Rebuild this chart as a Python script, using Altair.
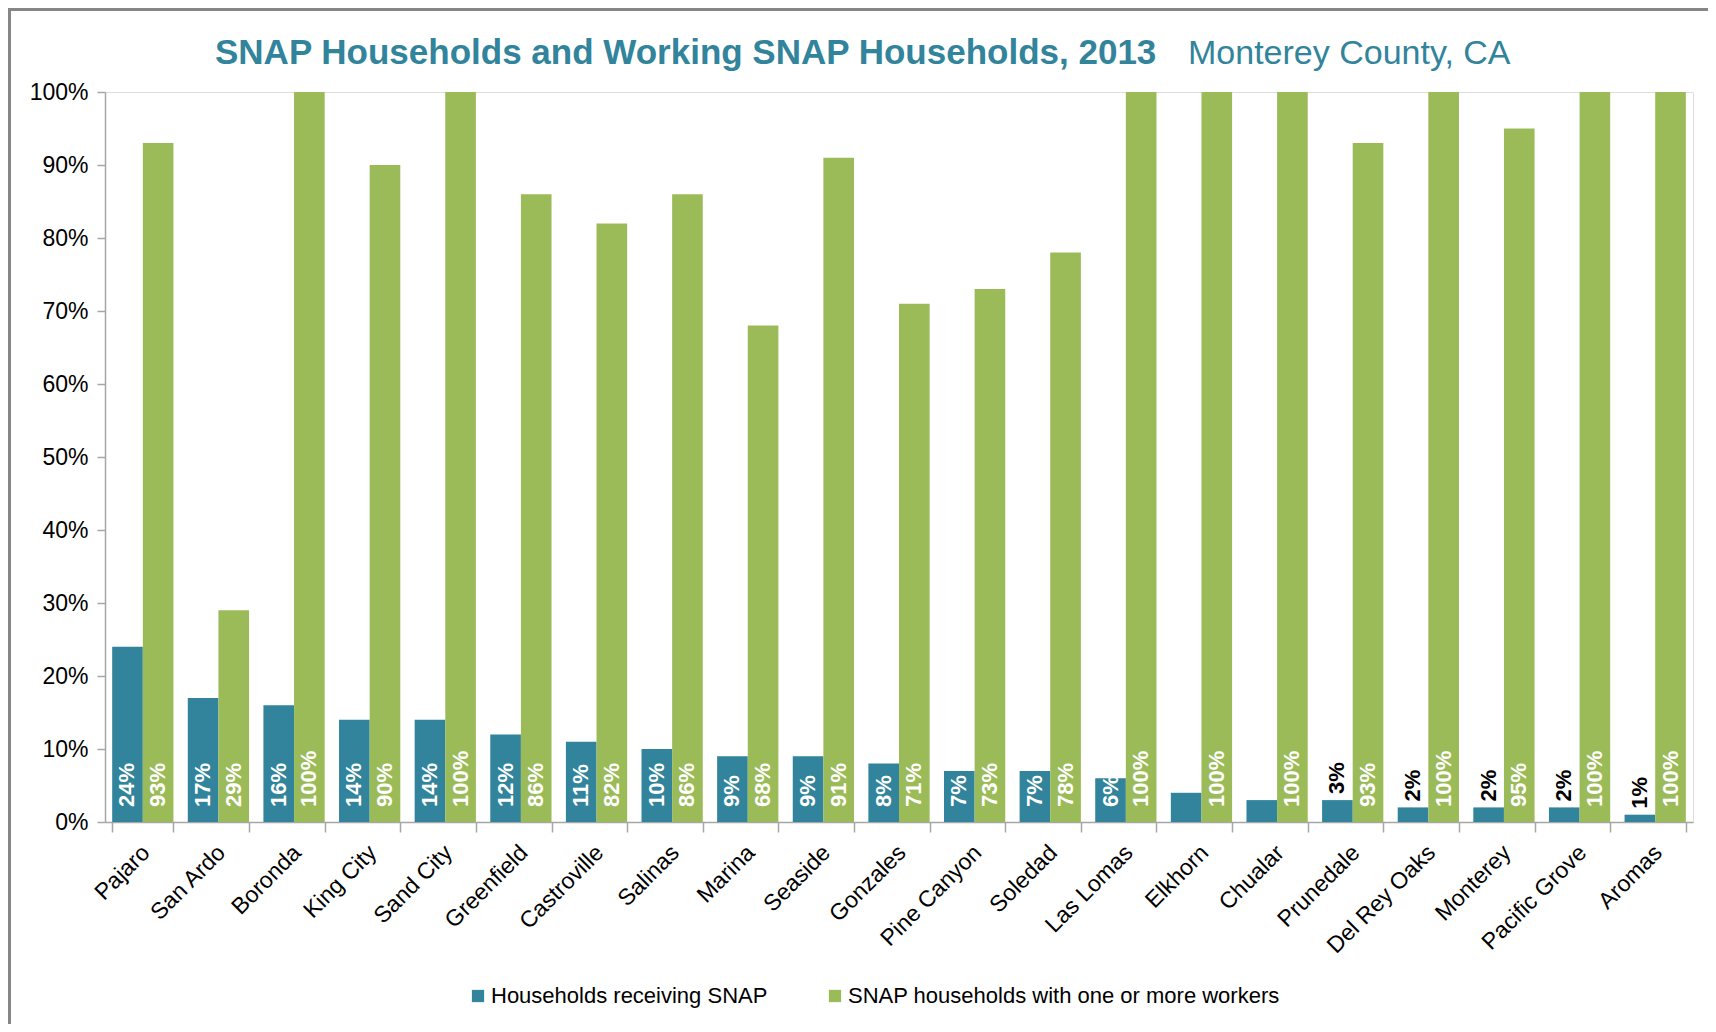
import altair as alt
import pandas as pd

places = ["Pajaro", "San Ardo", "Boronda", "King City", "Sand City", "Greenfield",
          "Castroville", "Salinas", "Marina", "Seaside", "Gonzales", "Pine Canyon",
          "Soledad", "Las Lomas", "Elkhorn", "Chualar", "Prunedale", "Del Rey Oaks",
          "Monterey", "Pacific Grove", "Aromas"]
snap = [24, 17, 16, 14, 14, 12, 11, 10, 9, 9, 8, 7, 7, 6, 4, 3, 3, 2, 2, 2, 1]
working = [93, 29, 100, 90, 100, 86, 82, 86, 68, 91, 71, 73, 78, 100, 100, 100,
           93, 100, 95, 100, 100]
snap_labels = ["24%", "17%", "16%", "14%", "14%", "12%", "11%", "10%", "9%", "9%",
               "8%", "7%", "7%", "6%", "", "", "3%", "2%", "2%", "2%", "1%"]
snap_inside = [True] * 14 + [False] * 7
working_labels = [f"{v}%" for v in working]

series = ["Households receiving SNAP", "SNAP households with one or more workers"]
colors = ["#31849B", "#9BBB59"]

rows = []
for i, p in enumerate(places):
    rows.append({"place": p, "series": series[0], "value": snap[i],
                 "label": snap_labels[i], "inside": snap_inside[i]})
    rows.append({"place": p, "series": series[1], "value": working[i],
                 "label": working_labels[i], "inside": True})
df = pd.DataFrame(rows)

FONT = "Liberation Sans, Arial, sans-serif"
W, H = 1588, 730

x_enc = alt.X("place:N", sort=places, title=None,
              scale=alt.Scale(paddingInner=0.19, paddingOuter=0.095),
              axis=alt.Axis(labelAngle=-45, labelAlign="right", labelBaseline="top",
                            labelFontSize=23, labelFont=FONT, labelColor="#000000",
                            tickBand="extent", tickSize=10, tickColor="#A6A6A6",
                            tickWidth=1.5, domainColor="#A6A6A6", domainWidth=1.5,
                            labelPadding=9, labelOffset=-5, grid=False))
xo_enc = alt.XOffset("series:N", sort=series, scale=alt.Scale(paddingInner=0, paddingOuter=0))
y_scale = alt.Scale(domain=[0, 100], nice=False, zero=True)

base = alt.Chart(df)

bars = base.mark_bar(strokeWidth=0).encode(
    x=x_enc,
    xOffset=xo_enc,
    y=alt.Y("value:Q", scale=y_scale, title=None,
            axis=alt.Axis(values=list(range(0, 101, 10)),
                          labelExpr="datum.value + '%'",
                          labelFontSize=23, labelFont=FONT, labelColor="#000000",
                          tickSize=8, tickColor="#A6A6A6", tickWidth=1.5,
                          domainColor="#A6A6A6", domainWidth=1.5,
                          labelPadding=9, grid=False)),
    color=alt.Color("series:N", sort=series,
                    scale=alt.Scale(domain=series, range=colors),
                    legend=alt.Legend(title=None, orient="none", direction="horizontal",
                                      legendX=362, legendY=893,
                                      symbolType="square", symbolSize=150,
                                      symbolStrokeWidth=0, labelLimit=0,
                                      labelFontSize=22, labelFont=FONT,
                                      labelColor="#000000", columnPadding=56,
                                      labelOffset=2)),
)

white_labels = base.transform_filter("datum.inside").mark_text(
    angle=270, align="left", baseline="middle", dx=15,
    font=FONT, fontSize=22, fontWeight="bold", color="#FFFFFF"
).encode(
    x=alt.X("place:N", sort=places),
    xOffset=alt.XOffset("series:N", sort=series),
    y=alt.datum(0),
    text="label:N",
)

black_labels = base.transform_filter("!datum.inside && datum.label != ''").mark_text(
    angle=270, align="left", baseline="middle", dx=6,
    font=FONT, fontSize=22, fontWeight="bold", color="#000000"
).encode(
    x=alt.X("place:N", sort=places),
    xOffset=alt.XOffset("series:N", sort=series),
    y=alt.Y("value:Q"),
    text="label:N",
)

title_df = pd.DataFrame({"t": ["SNAP Households and Working SNAP Households, 2013"]})
sub_df = pd.DataFrame({"t": ["Monterey County, CA"]})

title_mark = alt.Chart(title_df).mark_text(
    align="left", baseline="alphabetic", font=FONT, fontSize=35,
    fontWeight="bold", color="#31849B"
).encode(x=alt.value(110), y=alt.value(-28), text="t:N")

sub_mark = alt.Chart(sub_df).mark_text(
    align="left", baseline="alphabetic", font=FONT, fontSize=34,
    fontWeight="normal", color="#31849B"
).encode(x=alt.value(1083), y=alt.value(-28), text="t:N")

frame_left = alt.Chart(title_df).mark_rule(color="#868686", strokeWidth=3).encode(
    x=alt.value(-95.5), y=alt.value(-84), y2=alt.value(H + 202))
frame_top = alt.Chart(title_df).mark_rule(color="#868686", strokeWidth=3).encode(
    y=alt.value(-82.5), x=alt.value(-97), x2=alt.value(W + 15))

chart = alt.layer(bars, white_labels, black_labels, title_mark, sub_mark,
                  frame_left, frame_top).properties(
    width=W, height=H,
    autosize=alt.AutoSizeParams(type="none"),
    padding={"left": 97, "top": 84, "right": 15, "bottom": 202},
).configure_view(stroke=None).configure(background="#FFFFFF")

chart.save("out.html", embed_options={"renderer": "svg", "actions": False})
